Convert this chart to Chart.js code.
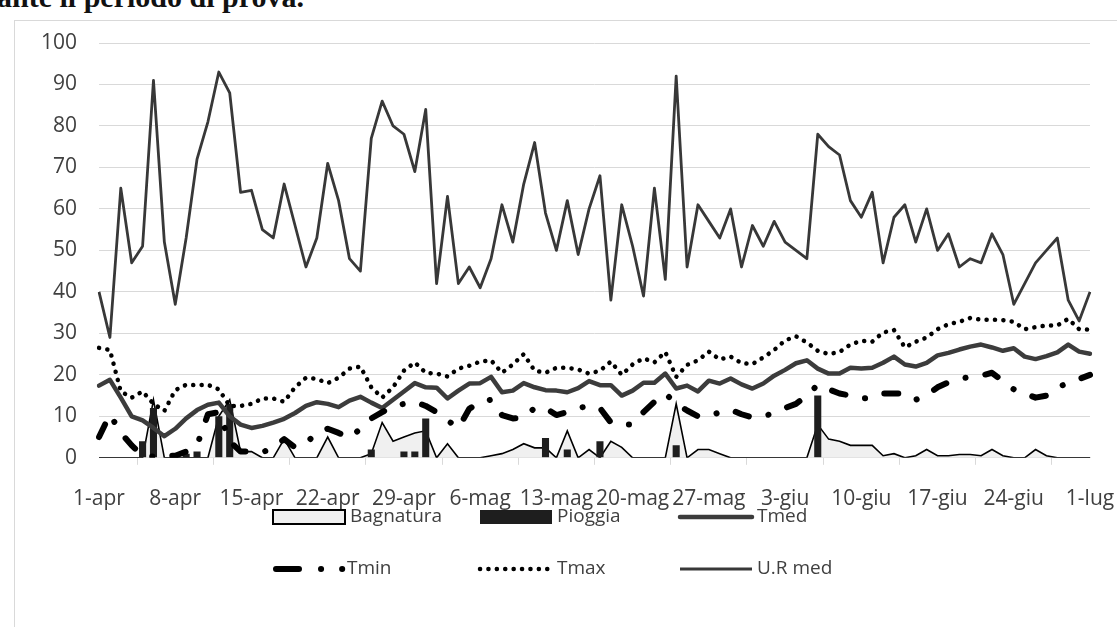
<!DOCTYPE html>
<html>
<head>
<meta charset="utf-8">
<script src="https://cdn.jsdelivr.net/npm/chart.js@4/dist/chart.umd.min.js"></script>
<style>
  body { margin: 0; background: #fff; }
  #wrap { position: relative; width: 1117px; height: 627px; overflow: hidden; }
  #title { position: absolute; left: -3px; top: -18px; font: bold 30px/30px "Liberation Serif", serif; color: #111; white-space: nowrap; }
  #frame { position: absolute; left: 14px; top: 20px; width: 1200px; height: 700px; border-left: 1px solid #d9d9d9; border-top: 1px solid #d9d9d9; }
  canvas { position: absolute; left: 0; top: 0; }
</style>
</head>
<body>
<div id="wrap">
  <div id="frame"></div>
  <div id="title">ante il periodo di prova.</div>
  <canvas id="meteoChart" width="1117" height="627"></canvas>
</div>
<script>
// Giorni (1-apr ... 1-lug)
let giorni = [
  "1-apr","2-apr","3-apr","4-apr","5-apr","6-apr","7-apr","8-apr","9-apr","10-apr",
  "11-apr","12-apr","13-apr","14-apr","15-apr","16-apr","17-apr","18-apr","19-apr","20-apr",
  "21-apr","22-apr","23-apr","24-apr","25-apr","26-apr","27-apr","28-apr","29-apr","30-apr",
  "1-mag","2-mag","3-mag","4-mag","5-mag","6-mag","7-mag","8-mag","9-mag","10-mag",
  "11-mag","12-mag","13-mag","14-mag","15-mag","16-mag","17-mag","18-mag","19-mag","20-mag",
  "21-mag","22-mag","23-mag","24-mag","25-mag","26-mag","27-mag","28-mag","29-mag","30-mag",
  "31-mag","1-giu","2-giu","3-giu","4-giu","5-giu","6-giu","7-giu","8-giu","9-giu",
  "10-giu","11-giu","12-giu","13-giu","14-giu","15-giu","16-giu","17-giu","18-giu","19-giu",
  "20-giu","21-giu","22-giu","23-giu","24-giu","25-giu","26-giu","27-giu","28-giu","29-giu",
  "30-giu","1-lug"
];

// Serie
let bagnatura = [
  0,0,0,0,0,14,0,0,0,0,
  0,10,14,1.5,1.5,0,0,4.5,0,0,
  0,5,0,0,0,1,8.5,4,5,6,
  6.5,0,3.4,0,0,0,0.5,1,2,3.4,
  2.4,2.4,0,6.5,0,2,0,4,2.5,0,
  0,0,0,13,0,2,2,1,0,0,
  0,0,0,0,0,0,8,4.5,4,3,
  3,3,0.5,1,0,0.5,2,0.5,0.5,0.8,
  0.8,0.5,2,0.5,0,0,2,0.5,0,0,
  0,0
];
let pioggia = [
  0,0,0,0,4,12,0,0,1,1.5,
  0,10,13,0,0,0,0,0,0,0,
  0,0,0,0,0,2,0,0,1.5,1.5,
  9.5,0,0,0,0,0,0,0,0,0,
  0,4.8,0,2,0,0,4,0,0,0,
  0,0,0,3,0,0,0,0,0,0,
  0,0,0,0,0,0,15,0,0,0,
  0,0,0,0,0,0,0,0,0,0,
  0,0,0,0,0,0,0,0,0,0,
  0,0
];
let tMed = [
  17.4,18.8,14.5,10,9,7.2,5.2,7,9.5,11.5,
  12.8,13.3,10,8,7.2,7.7,8.5,9.4,10.8,12.5,
  13.4,13,12.2,13.8,14.7,13.3,12,14,16,18,
  17,16.9,14.3,16.2,17.9,18,19.5,15.8,16.2,18,
  17,16.3,16.2,15.8,16.8,18.5,17.5,17.5,15,16.2,
  18.1,18.1,20.3,16.7,17.4,16,18.6,17.9,19.1,17.7,
  16.7,17.9,19.8,21.2,22.8,23.5,21.5,20.3,20.3,21.7,
  21.5,21.7,22.9,24.4,22.5,22,22.9,24.7,25.3,26.1,
  26.8,27.3,26.6,25.8,26.4,24.4,23.8,24.5,25.4,27.3,
  25.6,25.1
];
let tMin = [
  5,10.5,6,3,0.5,0.3,0.5,0.5,1.5,3,
  10.5,11,4,1.5,1.5,1.3,2.5,4.5,2.5,3.5,
  6,7,6,4.8,7,9.5,11,12.5,13,13.5,
  12.5,11,9,7.2,11.8,13.5,14,10.3,9.5,9.7,
  12,12,10.3,11,12,12.5,12,8.5,8,8,
  11,13.5,15.5,13,11.4,10,10,11,11.6,10.5,
  9.7,10,10.8,12,13,15,17.6,16.5,15.5,15,
  14.3,14.5,15.5,15.5,15.5,14,15,17,18.2,19,
  19.5,19.8,20.5,18.5,16.5,15.5,14.5,15,17,18,
  19,20
];
let tMax = [
  26.5,26,16,14.5,16,13,11.3,16.3,17.6,17.5,
  17.6,16.5,12.5,12.5,13,14.3,14.3,13.5,17,19.3,
  19,18,19.3,21.5,22,17,14.5,17,21,23,
  20.5,20.3,19.6,21.5,22.2,23.2,23.5,20.5,22.5,25,
  21,20.5,21.7,21.7,21.3,20.3,21,23.2,20,22.5,
  24,23,25.5,19.5,22.4,23.5,25.6,23.7,24.4,22.8,
  22.6,24.2,26,28.3,29.3,27.8,25.8,25,25.5,27.3,
  28.2,28,30.2,30.8,26.6,28,29,31,32.2,32.8,
  33.7,33.3,33.3,33.2,32.8,31,31.5,31.9,31.9,33.5,
  31,30.9
];
let urMed = [
  40,29,65,47,51,91,52,37,53,72,
  81,93,88,64,64.5,55,53,66,56,46,
  53,71,62,48,45,77,86,80,78,69,
  84,42,63,42,46,41,48,61,52,66,
  76,59,50,62,49,60,68,38,61,51,
  39,65,43,92,46,61,57,53,60,46,
  56,51,57,52,50,48,78,75,73,62,
  58,64,47,58,61,52,60,50,54,46,
  48,47,54,49,37,42,47,50,53,38,
  33,40
];

let fontFamily = "'Open Sans', 'Liberation Sans', sans-serif";
let textColor = '#404040';

// Legenda disegnata sotto il grafico (due righe, tre colonne)
const legendaPlugin = {
  id: 'legenda',
  afterDraw(chart) {
    let ctx = chart.ctx;
    let cols = [273, 480, 680];
    let rows = [517, 569];
    let w = 72;
    let items = [
      { label: 'Bagnatura', kind: 'area', col: 0, row: 0 },
      { label: 'Pioggia', kind: 'bar', col: 1, row: 0 },
      { label: 'Tmed', kind: 'line', col: 2, row: 0 },
      { label: 'Tmin', kind: 'line', col: 0, row: 1 },
      { label: 'Tmax', kind: 'line', col: 1, row: 1 },
      { label: 'U.R med', kind: 'line', col: 2, row: 1 }
    ];
    ctx.save();
    items.forEach(it => {
      let ds = chart.data.datasets.find(d => d.label === it.label);
      let x = cols[it.col], y = rows[it.row];
      let tx = x + w + 5;
      if (it.kind === 'area') {
        ctx.fillStyle = ds.backgroundColor;
        ctx.strokeStyle = ds.borderColor;
        ctx.lineWidth = 2;
        ctx.fillRect(x, y - 7, w, 14);
        ctx.strokeRect(x, y - 7, w, 14);
      } else if (it.kind === 'bar') {
        ctx.fillStyle = ds.backgroundColor;
        ctx.fillRect(x, y - 7, w, 14);
      } else {
        ctx.beginPath();
        ctx.strokeStyle = ds.borderColor;
        ctx.lineWidth = ds.borderWidth;
        ctx.lineCap = ds.borderCapStyle || 'butt';
        let x0 = x;
        if (it.label === 'Tmin') {
          ctx.setLineDash([23, 22, 0.1, 21, 0.1, 100]);
          x0 = x + 3;
          tx = x + 74;
        } else {
          ctx.setLineDash(ds.borderDash || []);
        }
        ctx.moveTo(x0, y);
        ctx.lineTo(x + w, y);
        ctx.stroke();
        ctx.setLineDash([]);
      }
      ctx.fillStyle = textColor;
      ctx.font = '19px ' + fontFamily;
      ctx.textBaseline = 'middle';
      ctx.textAlign = 'left';
      ctx.fillText(it.label, tx, y);
    });
    ctx.restore();
  }
};

function generateMeteoChart() {
  let ctx = document.getElementById('meteoChart').getContext('2d');
  new Chart(ctx, {
    data: {
      labels: giorni,
      datasets: [
        { type: 'line', label: 'U.R med', data: urMed, borderColor: '#383838', borderWidth: 2.8,
          pointRadius: 0, tension: 0, borderJoinStyle: 'round', order: 1 },
        { type: 'line', label: 'Tmed', data: tMed, borderColor: '#3c3c3c', borderWidth: 4.5,
          pointRadius: 0, tension: 0, borderJoinStyle: 'round', borderCapStyle: 'round', order: 3 },
        { type: 'line', label: 'Tmax', data: tMax, borderColor: '#000000', borderWidth: 4.5,
          borderDash: [0.1, 8.3], borderCapStyle: 'round', pointRadius: 0, tension: 0, order: 4 },
        { type: 'line', label: 'Tmin', data: tMin, borderColor: '#000000', borderWidth: 6,
          borderDash: [14, 20, 0.1, 20], borderCapStyle: 'round', borderJoinStyle: 'round',
          pointRadius: 0, tension: 0, order: 2 },
        { type: 'bar', label: 'Pioggia', data: pioggia, backgroundColor: '#1e1e1e',
          barPercentage: 0.65, categoryPercentage: 1, order: 5 },
        { type: 'line', label: 'Bagnatura', data: bagnatura, borderColor: '#000000', borderWidth: 1.6,
          backgroundColor: '#f0f0f0', fill: 'origin', pointRadius: 0, tension: 0, order: 6 }
      ]
    },
    options: {
      responsive: false,
      animation: false,
      devicePixelRatio: 1,
      layout: { padding: { left: 19, right: 27, top: 43, bottom: 93 } },
      plugins: { legend: { display: false }, tooltip: { enabled: false } },
      scales: {
        x: {
          offset: false,
          afterFit: (scale) => { scale.paddingLeft = 0; scale.paddingRight = 0; },
          grid: { display: true, drawOnChartArea: false, color: '#d9d9d9', tickLength: 7 },
          border: { color: '#d9d9d9' },
          ticks: {
            autoSkip: false, maxRotation: 0, padding: 22, color: textColor,
            font: { family: fontFamily, size: 21 },
            callback: (v, i) => (i % 7 === 0 ? giorni[i] : null)
          }
        },
        y: {
          min: 0, max: 100,
          grid: { color: '#d9d9d9', drawTicks: false },
          border: { display: false },
          ticks: { stepSize: 10, padding: 22, color: textColor, font: { family: fontFamily, size: 21 } }
        }
      }
    },
    plugins: [legendaPlugin]
  });
}

generateMeteoChart();
</script>
</body>
</html>
